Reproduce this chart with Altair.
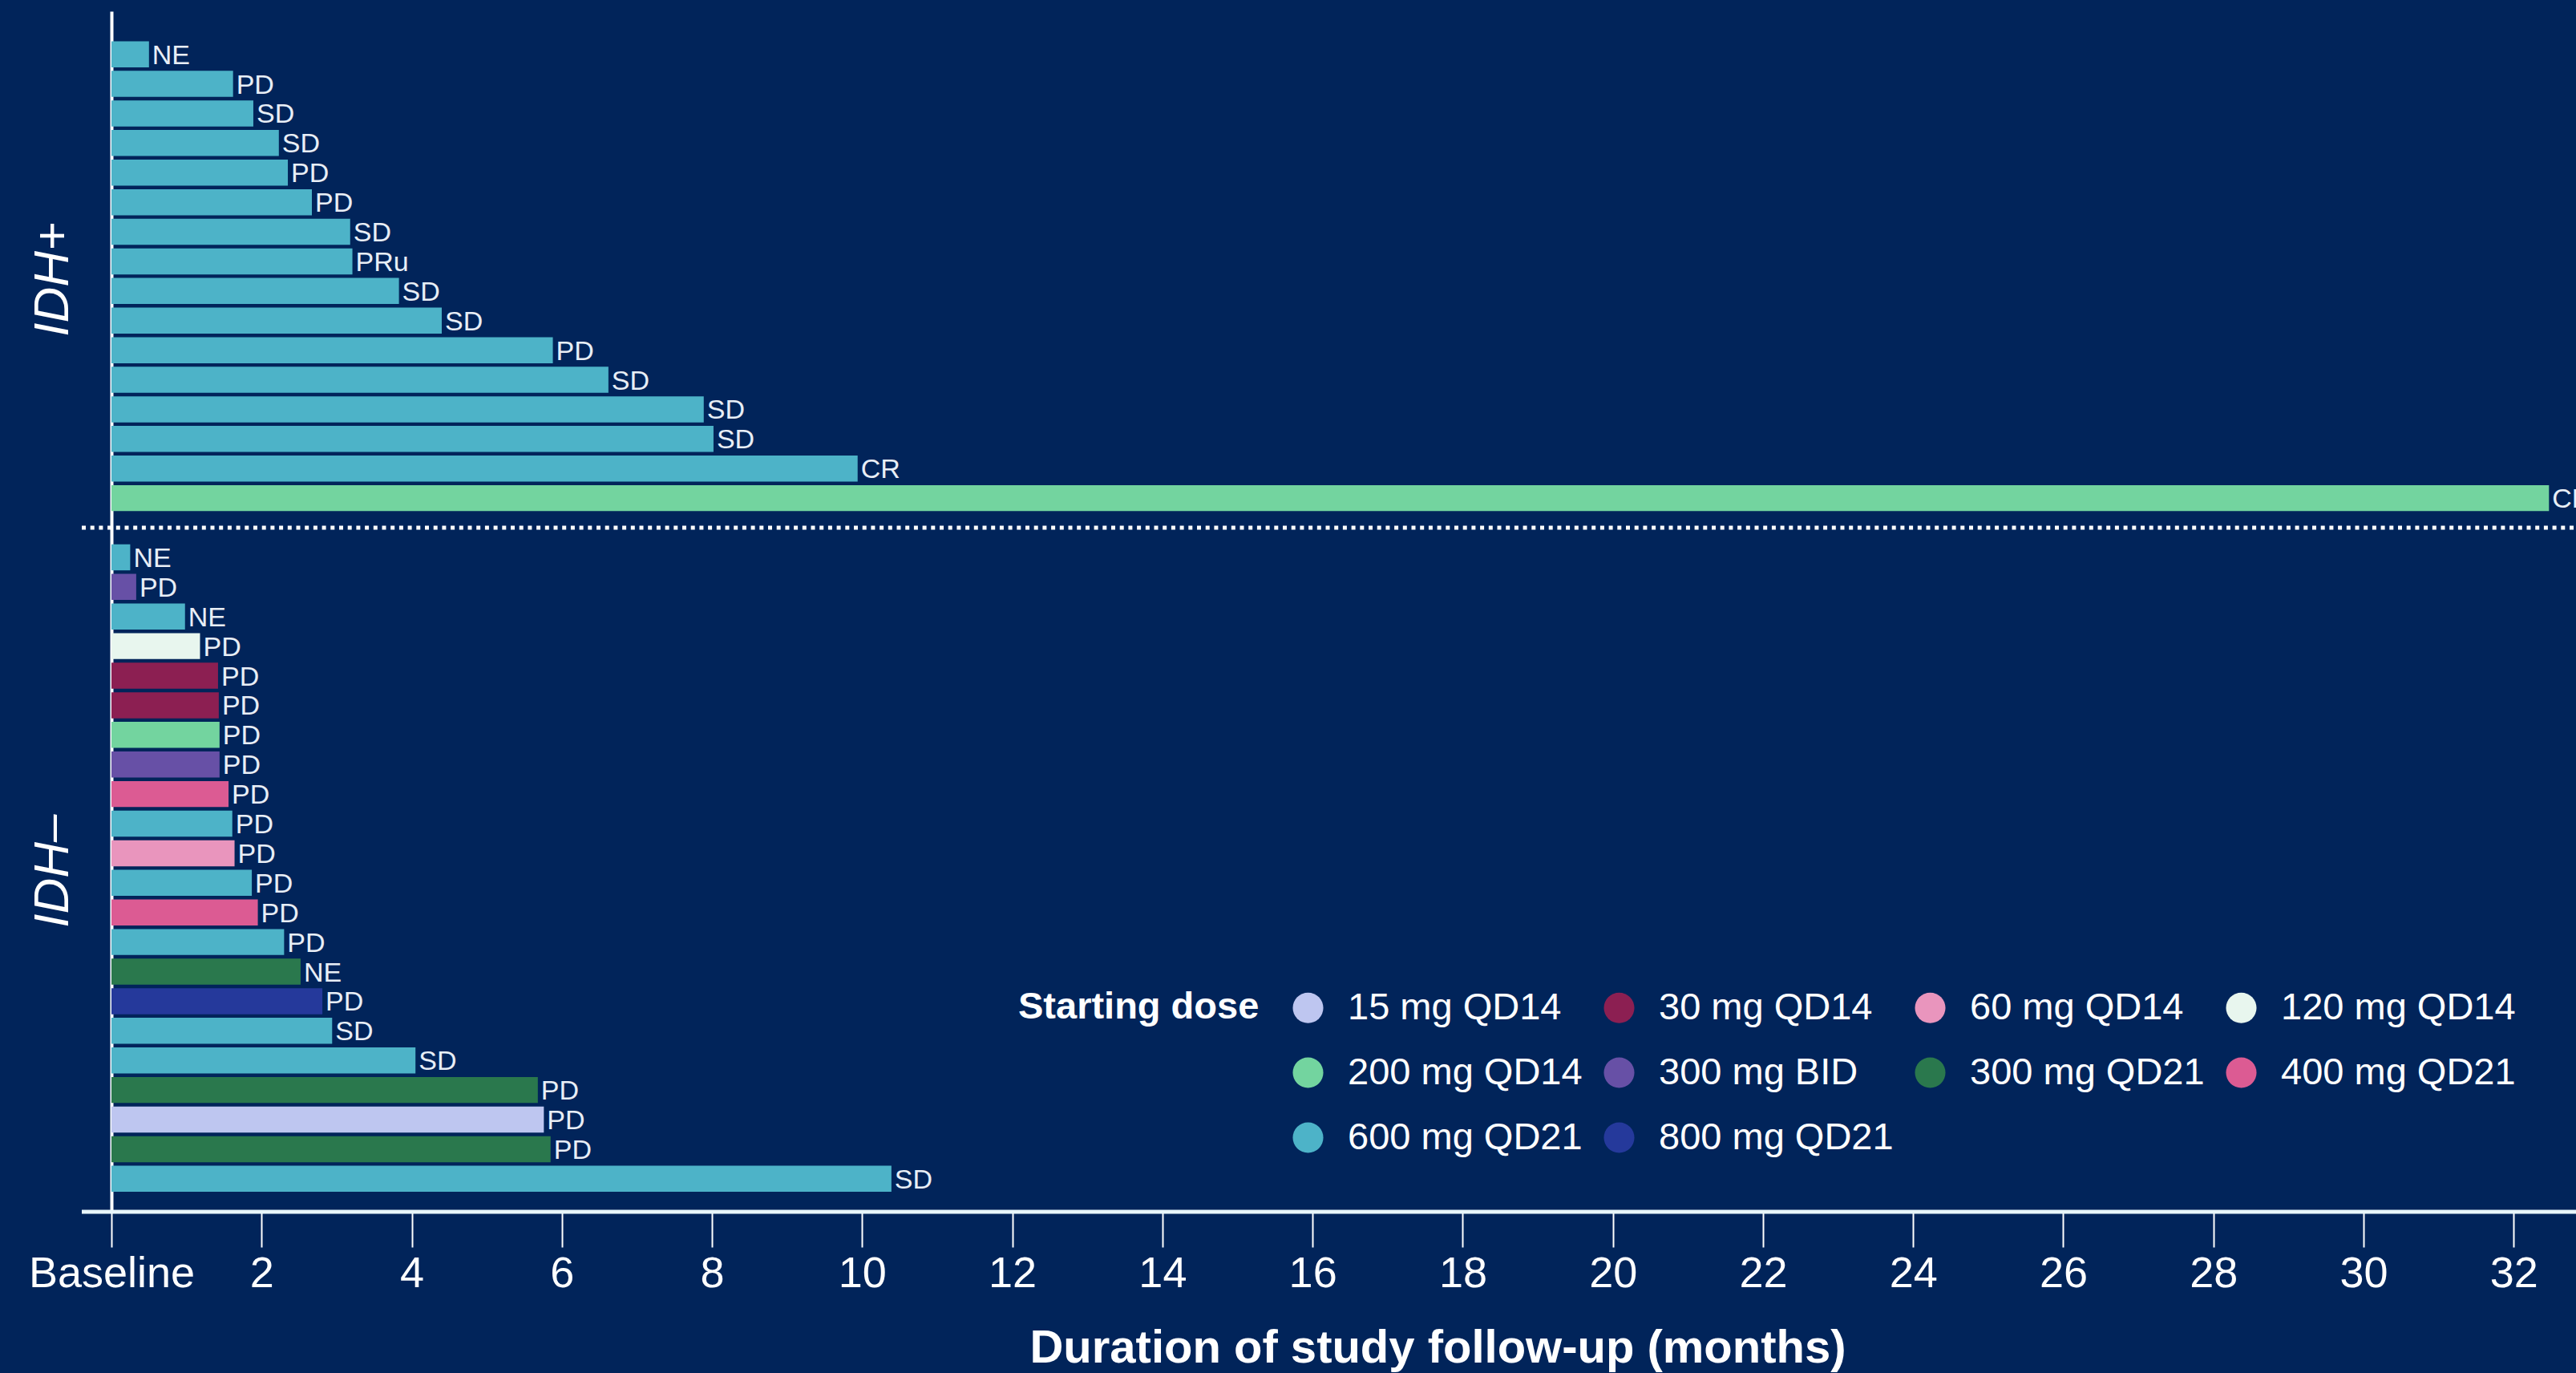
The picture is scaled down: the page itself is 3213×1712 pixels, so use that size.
import altair as alt
import pandas as pd

# ---------------- data ----------------
top_durations = [0.50, 1.62, 1.89, 2.23, 2.35, 2.67, 3.18, 3.21, 3.83, 4.40,
                 5.88, 6.62, 7.89, 8.02, 9.94, 32.47]
top_responses = ["NE", "PD", "SD", "SD", "PD", "PD", "SD", "PRu", "SD", "SD",
                 "PD", "SD", "SD", "SD", "CR", "CR"]
top_doses = ["600 mg QD21", "600 mg QD21", "600 mg QD21", "600 mg QD21",
             "600 mg QD21", "600 mg QD21", "600 mg QD21", "600 mg QD21",
             "600 mg QD21", "600 mg QD21", "600 mg QD21", "600 mg QD21",
             "600 mg QD21", "600 mg QD21", "600 mg QD21", "200 mg QD14"]

bottom_durations = [0.25, 0.33, 0.98, 1.18, 1.42, 1.43, 1.44, 1.44, 1.56, 1.61,
                    1.64, 1.87, 1.95, 2.30, 2.52, 2.81, 2.94, 4.05, 5.68, 5.76,
                    5.85, 10.39]
bottom_responses = ["NE", "PD", "NE", "PD", "PD", "PD", "PD", "PD", "PD", "PD",
                    "PD", "PD", "PD", "PD", "NE", "PD", "SD", "SD", "PD", "PD",
                    "PD", "SD"]
bottom_doses = ["600 mg QD21", "300 mg BID", "600 mg QD21", "120 mg QD14",
                "30 mg QD14", "30 mg QD14", "200 mg QD14", "300 mg BID",
                "400 mg QD21", "600 mg QD21", "60 mg QD14", "600 mg QD21",
                "400 mg QD21", "600 mg QD21", "300 mg QD21", "800 mg QD21",
                "600 mg QD21", "600 mg QD21", "300 mg QD21", "15 mg QD14",
                "300 mg QD21", "600 mg QD21"]

dose_order = ["15 mg QD14", "30 mg QD14", "60 mg QD14", "120 mg QD14",
              "200 mg QD14", "300 mg BID", "300 mg QD21", "400 mg QD21",
              "600 mg QD21", "800 mg QD21"]
dose_colors = ["#bec6f0", "#8c1f52", "#e995bd", "#e8f6ee",
               "#73d49f", "#6750a6", "#2a784d", "#dc5b93",
               "#4db3c8", "#25399b"]

group_names = ["IDH+", "IDH\u2013"]
x_ticks = [0, 2, 4, 6, 8, 10, 12, 14, 16, 18, 20, 22, 24, 26, 28, 30, 32]

# ---------------- tables ----------------
top_ids = [f"top{i:02d}" for i in range(len(top_durations))]
bottom_ids = [f"bot{i:02d}" for i in range(len(bottom_durations))]
row_order = top_ids + ["gap"] + bottom_ids

df = pd.DataFrame({
    "row": top_ids + bottom_ids,
    "duration": top_durations + bottom_durations,
    "response": top_responses + bottom_responses,
    "dose": top_doses + bottom_doses,
})
groups_df = pd.DataFrame({"row": [top_ids[8], bottom_ids[11]], "label": group_names})
sep_df = pd.DataFrame({"row": ["gap"]})
axis_df = pd.DataFrame({"k": [0]})

W = 3074
H = 1497
FONT = "Liberation Sans, Arial, sans-serif"

y_scale = alt.Scale(domain=row_order, paddingInner=0.12, paddingOuter=0.845,
                    align=0.6, round=False)
x_scale = alt.Scale(domain=[0, 32.83], nice=False)

bars = alt.Chart(df).mark_bar(cornerRadius=0).encode(
    x=alt.X("duration:Q", scale=x_scale,
            axis=alt.Axis(values=x_ticks, grid=False, domain=False, format="d",
                          labelExpr="datum.value == 0 ? 'Baseline' : datum.label",
                          labelFontSize=54, labelColor="white", labelFont=FONT,
                          labelPadding=6, labelFlush=False, labelLimit=600,
                          labelOverlap=False,
                          tickColor="white", tickWidth=2, tickSize=44,
                          title="Duration of study follow-up (months)",
                          titleFontSize=58, titleFont=FONT, titleFontWeight="bold",
                          titleColor="white", titleX=1654, titleY=187,
                          titleAlign="center", titleBaseline="alphabetic",
                          titleLimit=3000)),
    y=alt.Y("row:N", scale=y_scale,
            axis=alt.Axis(labels=False, ticks=False, title="", grid=False,
                          domainColor="white", domainWidth=4)),
    color=alt.Color("dose:N",
                    scale=alt.Scale(domain=dose_order, range=dose_colors),
                    legend=alt.Legend(title="Starting dose", orient="none",
                                      direction="horizontal",
                                      legendX=1131, legendY=1219, columns=4,
                                      symbolType="circle", symbolSize=1450,
                                      symbolStrokeWidth=0, symbolOpacity=1,
                                      labelFontSize=47, labelFont=FONT,
                                      labelColor="white", labelOffset=26,
                                      labelLimit=800,
                                      titleFontSize=47, titleFont=FONT,
                                      titleFontWeight="bold", titleColor="white",
                                      titleOrient="left", titlePadding=37,
                                      titleBaseline="top", titleAnchor="start",
                                      titleLimit=800,
                                      columnPadding=22, rowPadding=33, padding=0)),
)

labels = alt.Chart(df).mark_text(align="left", baseline="middle", dx=4, dy=2,
                                 fontSize=34, font=FONT, color="#e8eef6").encode(
    x=alt.X("duration:Q", scale=x_scale),
    y=alt.Y("row:N", scale=y_scale, bandPosition=0.5),
    text="response:N",
)

group_labels = alt.Chart(groups_df).mark_text(angle=270, align="center",
                                              baseline="middle", fontSize=62,
                                              font=FONT, fontStyle="italic",
                                              color="white").encode(
    x=alt.value(-73),
    y=alt.Y("row:N", scale=y_scale, bandPosition=0.05),
    text="label:N",
)

separator = alt.Chart(sep_df).mark_rule(strokeDash=[5, 5.7], strokeWidth=5,
                                        color="white", strokeCap="butt").encode(
    y=alt.Y("row:N", scale=y_scale, bandPosition=0.5),
    x=alt.value(-37),
    x2=alt.value(W),
)

x_line = alt.Chart(axis_df).mark_rule(strokeWidth=5, color="#e8f6fa").encode(
    x=alt.value(-37),
    x2=alt.value(W),
    y=alt.value(H),
)

chart = alt.layer(bars, labels, group_labels, separator, x_line).properties(
    width=W,
    height=H,
    autosize=alt.AutoSizeParams(type="none"),
    padding={"left": 139, "top": 14, "right": 0, "bottom": 201},
).configure(background="#01245a").configure_view(strokeWidth=0)

chart.save("out.html", embed_options={"renderer": "svg", "actions": False})
